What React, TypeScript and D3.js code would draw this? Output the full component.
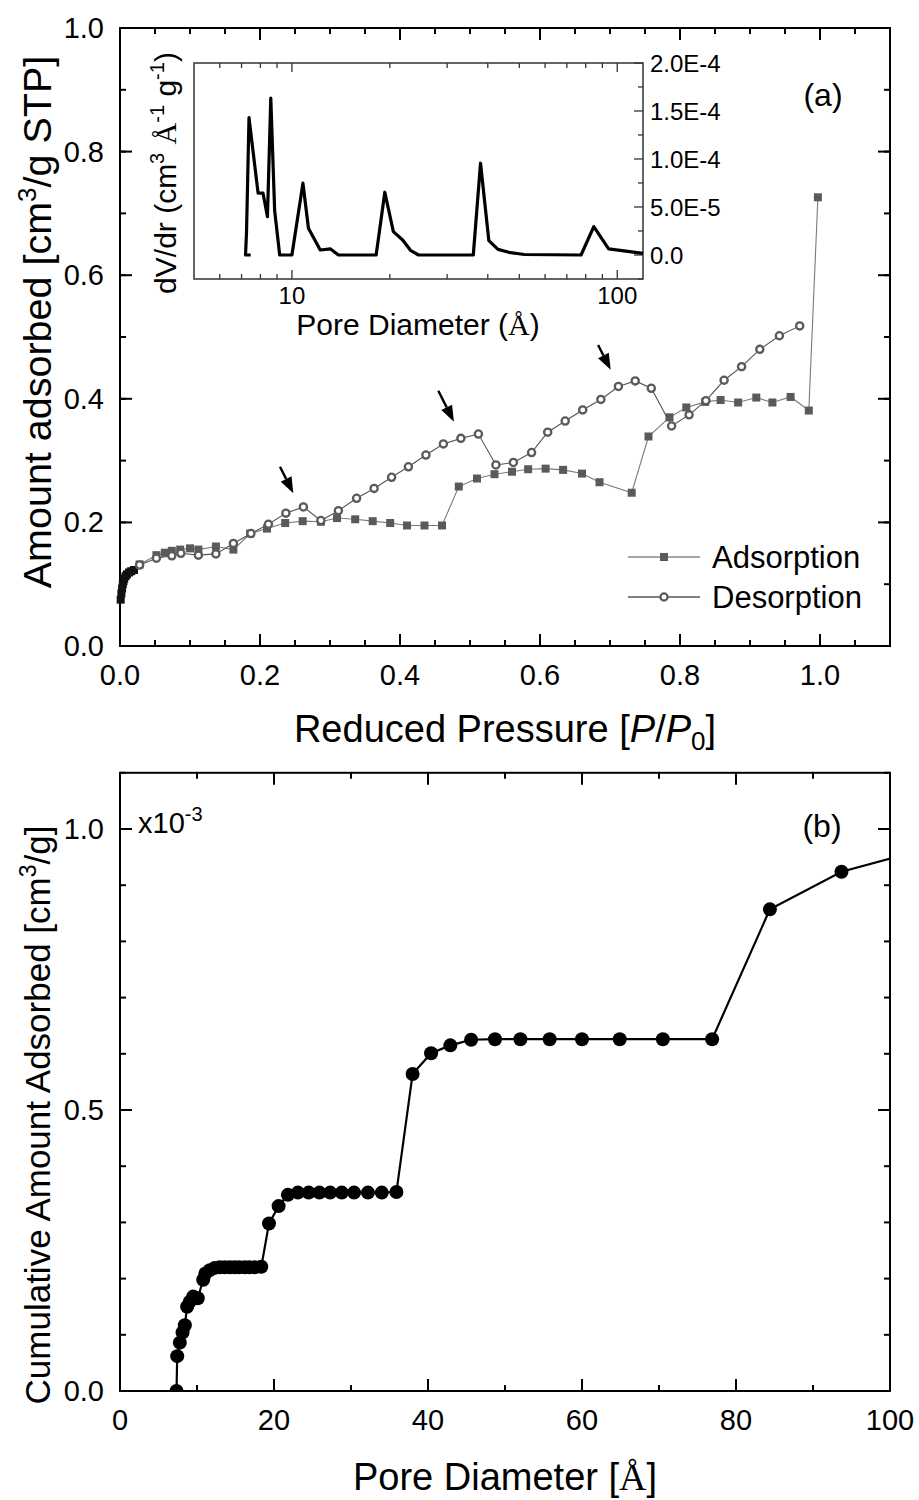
import React from "react";
import * as d3 from "d3";

// ---------- data: panel (a) isotherm ----------
const adsP = [0.001, 0.002, 0.003, 0.004, 0.005, 0.006, 0.008, 0.010, 0.013, 0.016, 0.020, 0.028, 0.052, 0.064, 0.074, 0.086, 0.100, 0.112, 0.137, 0.162, 0.186, 0.210, 0.236, 0.261, 0.287, 0.310, 0.336, 0.361, 0.386, 0.410, 0.435, 0.460, 0.484, 0.510, 0.535, 0.560, 0.583, 0.608, 0.633, 0.660, 0.685, 0.731, 0.755, 0.785, 0.809, 0.836, 0.858, 0.883, 0.909, 0.932, 0.958, 0.984, 0.997];
const adsV = [0.075, 0.085, 0.093, 0.100, 0.105, 0.109, 0.113, 0.116, 0.119, 0.121, 0.123, 0.132, 0.147, 0.151, 0.154, 0.156, 0.158, 0.156, 0.161, 0.156, 0.182, 0.190, 0.199, 0.202, 0.201, 0.207, 0.205, 0.202, 0.199, 0.195, 0.195, 0.195, 0.258, 0.271, 0.278, 0.282, 0.286, 0.287, 0.285, 0.279, 0.265, 0.248, 0.339, 0.370, 0.386, 0.395, 0.398, 0.394, 0.402, 0.394, 0.403, 0.381, 0.726];
const desP = [0.028, 0.052, 0.074, 0.087, 0.112, 0.137, 0.162, 0.187, 0.212, 0.237, 0.262, 0.287, 0.312, 0.338, 0.363, 0.388, 0.412, 0.437, 0.462, 0.487, 0.512, 0.537, 0.562, 0.588, 0.611, 0.636, 0.661, 0.687, 0.712, 0.736, 0.759, 0.788, 0.813, 0.837, 0.863, 0.888, 0.914, 0.942, 0.971];
const desV = [0.131, 0.142, 0.146, 0.150, 0.147, 0.149, 0.166, 0.182, 0.197, 0.215, 0.225, 0.203, 0.219, 0.239, 0.255, 0.273, 0.290, 0.309, 0.327, 0.336, 0.343, 0.293, 0.297, 0.313, 0.346, 0.364, 0.382, 0.399, 0.420, 0.429, 0.417, 0.356, 0.374, 0.397, 0.430, 0.452, 0.480, 0.502, 0.518];
// arrows (data coordinates): start and end
const arrowFromP = [0.2286, 0.4547, 0.683];
const arrowFromV = [0.290, 0.413, 0.487];
const arrowToP = [0.2476, 0.477, 0.701];
const arrowToV = [0.247, 0.363, 0.447];

// ---------- data: inset PSD (dV/dr, 1e-5 units) ----------
const psdD = [7.47, 7.2, 7.25, 7.38, 7.87, 8.15, 8.41, 8.61, 8.85, 9.17, 10.0, 10.81, 11.24, 12.22, 13.14, 13.9, 18.15, 19.3, 20.5, 21.9, 23.2, 24.5, 36.1, 38.0, 40.3, 43.0, 46.4, 51.8, 77.4, 84.7, 94.1, 120];
const psdV = [0, 0, 2.3, 14.3, 6.44, 6.44, 4.0, 16.35, 4.6, 0, 0, 7.48, 2.78, 0.52, 0.63, 0, 0, 6.54, 2.43, 1.56, 0.45, 0, 0, 9.56, 1.5, 0.59, 0.28, 0.05, 0, 2.96, 0.63, 0.17];

// ---------- data: panel (b) cumulative ----------
const poreD = [7.34, 7.43, 7.77, 8.12, 8.42, 8.72, 9.07, 9.5, 10.1, 10.8, 11.1, 11.66, 12.3, 12.95, 13.6, 14.25, 14.9, 15.5, 16.2, 16.8, 17.5, 18.35, 19.35, 20.6, 21.8, 23.1, 24.5, 25.9, 27.3, 28.8, 30.4, 32.2, 34.0, 35.9, 38.0, 40.4, 42.9, 45.6, 48.7, 52.0, 55.8, 60.0, 64.9, 70.5, 76.9, 84.4, 93.7, 104];
const cumV = [0, 0.062, 0.086, 0.104, 0.117, 0.150, 0.159, 0.168, 0.165, 0.198, 0.209, 0.215, 0.219, 0.220, 0.220, 0.220, 0.220, 0.220, 0.220, 0.220, 0.220, 0.221, 0.298, 0.329, 0.349, 0.353, 0.353, 0.353, 0.353, 0.353, 0.353, 0.353, 0.353, 0.354, 0.564, 0.601, 0.615, 0.625, 0.626, 0.626, 0.626, 0.626, 0.626, 0.626, 0.626, 0.857, 0.924, 0.962];

// ---------- ticks ----------
const aXMajor = [0, 0.2, 0.4, 0.6, 0.8, 1.0];
const aXLabels = ["0.0", "0.2", "0.4", "0.6", "0.8", "1.0"];
const aXMinor = d3.range(0, 1.1001, 0.05);
const aYMajor = [0, 0.2, 0.4, 0.6, 0.8, 1.0];
const aYLabels = ["0.0", "0.2", "0.4", "0.6", "0.8", "1.0"];
const aYMinor = d3.range(0, 1.0001, 0.1);
const iXMajor = [10, 100];
const iXLabels = ["10", "100"];
const iXMinor = [6, 7, 8, 9, 20, 30, 40, 50, 60, 70, 80, 90];
const iYMajor = [0, 5e-5, 1e-4, 1.5e-4, 2e-4];
const iYLabels = ["0.0", "5.0E-5", "1.0E-4", "1.5E-4", "2.0E-4"];
const iYMinor = [-2.5e-5, 2.5e-5, 7.5e-5, 1.25e-4, 1.75e-4];
const bXMajor = [0, 20, 40, 60, 80, 100];
const bXLabels = ["0", "20", "40", "60", "80", "100"];
const bXMinor = d3.range(0, 100.001, 10);
const bYMajor = [0, 0.5, 1.0];
const bYLabels = ["0.0", "0.5", "1.0"];
const bYMinor = d3.range(0, 1.1001, 0.1);

const FONT = "Arial, 'Liberation Sans', Helvetica, sans-serif";
const SERIF = "'Times New Roman', 'Liberation Serif', 'DejaVu Serif', serif";

function Ticks({ xs, ys, x0, x1, y0, y1, xMaj, xMin, yMaj, yMin, sides, lenMaj, lenMin, sw, color }: any) {
  const out: any[] = [];
  let k = 0;
  const addX = (v: number, len: number) => {
    const x = xs(v);
    if (sides.includes("b")) out.push(<line key={k++} x1={x} x2={x} y1={y1} y2={y1 - len} stroke={color} strokeWidth={sw} />);
    if (sides.includes("t")) out.push(<line key={k++} x1={x} x2={x} y1={y0} y2={y0 + len} stroke={color} strokeWidth={sw} />);
  };
  const addY = (v: number, len: number) => {
    const y = ys(v);
    if (sides.includes("l")) out.push(<line key={k++} x1={x0} x2={x0 + len} y1={y} y2={y} stroke={color} strokeWidth={sw} />);
    if (sides.includes("r")) out.push(<line key={k++} x1={x1} x2={x1 - len} y1={y} y2={y} stroke={color} strokeWidth={sw} />);
  };
  xMin.forEach((v: number) => addX(v, lenMin));
  xMaj.forEach((v: number) => addX(v, lenMaj));
  yMin.forEach((v: number) => addY(v, lenMin));
  yMaj.forEach((v: number) => addY(v, lenMaj));
  return <g>{out}</g>;
}

export default function App() {
  // panel (a)
  const aL = 120, aR = 890, aT = 28, aB = 646;
  const xA = d3.scaleLinear().domain([0, 1.1]).range([aL, aR]);
  const yA = d3.scaleLinear().domain([0, 1.0]).range([aB, aT]);
  // inset
  const iL = 194, iR = 643, iT = 63, iB = 279;
  const xI = d3.scaleLog().domain([5, 120]).range([iL, iR]);
  const yI = d3.scaleLinear().domain([-2.5e-5, 2.0e-4]).range([iB, iT]);
  // panel (b)
  const bL = 120, bR = 890, bB = 1391;
  const xB = d3.scaleLinear().domain([0, 100]).range([bL, bR]);
  const yB = d3.scaleLinear().domain([0, 1.1]).range([bB, bB - 1.1 * 562]);
  const bT = yB(1.1);

  const ads = adsP.map((p, i) => [p, adsV[i]] as [number, number]);
  const des = desP.map((p, i) => [p, desV[i]] as [number, number]);
  const lineA = d3.line<[number, number]>().x((d) => xA(d[0])).y((d) => yA(d[1]));
  const psd = psdD.map((d, i) => [d, psdV[i] * 1e-5] as [number, number]);
  const lineI = d3.line<[number, number]>().x((d) => xI(d[0])).y((d) => yI(d[1]));
  const cum = poreD.map((d, i) => [d, cumV[i]] as [number, number]);
  const lineB = d3.line<[number, number]>().x((d) => xB(d[0])).y((d) => yB(d[1]));

  const markGray = "#5a5a5a";
  const tickFs = 29;

  const arrows = arrowFromP.map((p, i) => {
    const x1 = xA(p), y1 = yA(arrowFromV[i]);
    const x2 = xA(arrowToP[i]), y2 = yA(arrowToV[i]);
    const ang = Math.atan2(y2 - y1, x2 - x1);
    const hl = 16, hw = 6;
    const bx = x2 - hl * Math.cos(ang), by = y2 - hl * Math.sin(ang);
    const px = -Math.sin(ang) * hw, py = Math.cos(ang) * hw;
    return (
      <g key={"ar" + i}>
        <line x1={x1} y1={y1} x2={bx} y2={by} stroke="#000" strokeWidth={2.4} />
        <polygon points={`${x2},${y2} ${bx + px},${by + py} ${bx - px},${by - py}`} fill="#000" />
      </g>
    );
  });

  return (
    <svg width={919} height={1500} style={{ position: "absolute", left: 0, top: 0, background: "#fff" }} fontFamily={FONT}>
      <rect x={0} y={0} width={919} height={1500} fill="#fff" />
      <defs>
        <clipPath id="clipB">
          <rect x={bL} y={bT} width={bR - bL} height={bB - bT} />
        </clipPath>
      </defs>

      {/* ================= panel (a) ================= */}
      <rect x={aL} y={aT} width={aR - aL} height={aB - aT} fill="none" stroke="#000" strokeWidth={2} />
      <Ticks xs={xA} ys={yA} x0={aL} x1={aR} y0={aT} y1={aB} xMaj={aXMajor} xMin={aXMinor} yMaj={aYMajor} yMin={aYMinor} sides="btlr" lenMaj={12} lenMin={6} sw={2} color="#000" />
      {aXMajor.map((v, i) => (
        <text key={"axl" + i} x={xA(v)} y={685} fontSize={tickFs} textAnchor="middle" fill="#000">{aXLabels[i]}</text>
      ))}
      {aYMajor.map((v, i) => (
        <text key={"ayl" + i} x={104} y={yA(v) + 10} fontSize={tickFs} textAnchor="end" fill="#000">{aYLabels[i]}</text>
      ))}
      <text x={505} y={742} fontSize={38} textAnchor="middle" fill="#000">
        Reduced Pressure [<tspan fontStyle="italic">P</tspan>/<tspan fontStyle="italic">P</tspan>
        <tspan fontSize={26} dy={8}>0</tspan>
        <tspan dy={-8}>]</tspan>
      </text>
      <text transform="translate(51,322) rotate(-90)" fontSize={39.5} textAnchor="middle" fill="#000">
        Amount adsorbed [cm<tspan fontSize={26} dy={-15}>3</tspan>
        <tspan dy={15}>/g STP]</tspan>
      </text>
      <text x={823} y={106} fontSize={32} textAnchor="middle" fill="#000">(a)</text>

      {/* data lines */}
      <path d={lineA(ads) || ""} fill="none" stroke="#7a7a7a" strokeWidth={1.1} />
      <path d={lineA(des) || ""} fill="none" stroke="#555" strokeWidth={1.1} />
      {ads.map((d, i) => (
        <rect key={"sq" + i} x={xA(d[0]) - 4} y={yA(d[1]) - 4} width={8} height={8} fill={d[0] < 0.025 ? "#111" : markGray} />
      ))}
      {des.map((d, i) => (
        <circle key={"ci" + i} cx={xA(d[0])} cy={yA(d[1])} r={3.6} fill="#fff" stroke={markGray} strokeWidth={2.3} />
      ))}
      {arrows}

      {/* legend */}
      <line x1={628} x2={700} y1={557} y2={557} stroke="#888" strokeWidth={1.3} />
      <rect x={660} y={553} width={8} height={8} fill={markGray} />
      <text x={712} y={557} fontSize={31} dominantBaseline="central" fill="#000">Adsorption</text>
      <line x1={628} x2={700} y1={597} y2={597} stroke="#555" strokeWidth={1.3} />
      <circle cx={664} cy={597} r={3.6} fill="#fff" stroke={markGray} strokeWidth={2.3} />
      <text x={712} y={597} fontSize={31} dominantBaseline="central" fill="#000">Desorption</text>

      {/* ================= inset ================= */}
      <rect x={iL} y={iT} width={iR - iL} height={iB - iT} fill="#fff" stroke="#333" strokeWidth={1.5} />
      <Ticks xs={xI} ys={yI} x0={iL} x1={iR} y0={iT} y1={iB} xMaj={iXMajor} xMin={iXMinor} yMaj={iYMajor} yMin={iYMinor} sides="btr" lenMaj={9} lenMin={5} sw={1.3} color="#333" />
      <path d={lineI(psd) || ""} fill="none" stroke="#000" strokeWidth={3.2} strokeLinejoin="round" />
      {iXMajor.map((v, i) => (
        <text key={"ixl" + i} x={xI(v)} y={304} fontSize={24} textAnchor="middle" fill="#000">{iXLabels[i]}</text>
      ))}
      {iYMajor.map((v, i) => (
        <text key={"iyl" + i} x={650} y={yI(v) + 8.5} fontSize={24} textAnchor="start" fill="#000">{iYLabels[i]}</text>
      ))}
      <text x={418} y={335} fontSize={30} textAnchor="middle" fill="#000">
        Pore Diameter (<tspan fontFamily={SERIF}>Å</tspan>)
      </text>
      <text transform="translate(176,173) rotate(-90)" fontSize={30} textAnchor="middle" fill="#000">
        dV/dr (cm<tspan fontSize={20} dy={-12}>3</tspan>
        <tspan dy={12}> </tspan>
        <tspan fontFamily={SERIF}>Å</tspan>
        <tspan fontSize={20} dy={-12}>-1</tspan>
        <tspan dy={12}> g</tspan>
        <tspan fontSize={20} dy={-12}>-1</tspan>
        <tspan dy={12}>)</tspan>
      </text>

      {/* ================= panel (b) ================= */}
      <rect x={bL} y={bT} width={bR - bL} height={bB - bT} fill="none" stroke="#000" strokeWidth={2} />
      <Ticks xs={xB} ys={yB} x0={bL} x1={bR} y0={bT} y1={bB} xMaj={bXMajor} xMin={bXMinor} yMaj={bYMajor} yMin={bYMinor} sides="btlr" lenMaj={12} lenMin={6} sw={2} color="#000" />
      {bXMajor.map((v, i) => (
        <text key={"bxl" + i} x={xB(v)} y={1430} fontSize={tickFs} textAnchor="middle" fill="#000">{bXLabels[i]}</text>
      ))}
      {bYMajor.map((v, i) => (
        <text key={"byl" + i} x={104} y={yB(v) + 10} fontSize={tickFs} textAnchor="end" fill="#000">{bYLabels[i]}</text>
      ))}
      <text x={138} y={833} fontSize={29} fill="#000">
        x10<tspan fontSize={20} dy={-12}>-3</tspan>
      </text>
      <text x={822} y={837} fontSize={32} textAnchor="middle" fill="#000">(b)</text>
      <text x={505} y={1490} fontSize={38} textAnchor="middle" fill="#000">
        Pore Diameter [<tspan fontFamily={SERIF}>Å</tspan>]
      </text>
      <text transform="translate(50,1115) rotate(-90)" fontSize={35} textAnchor="middle" fill="#000">
        Cumulative Amount Adsorbed [cm<tspan fontSize={23} dy={-14}>3</tspan>
        <tspan dy={14}>/g]</tspan>
      </text>
      <g clipPath="url(#clipB)">
        <path d={lineB(cum) || ""} fill="none" stroke="#000" strokeWidth={2.2} />
        {cum.map((d, i) => (
          <circle key={"cb" + i} cx={xB(d[0])} cy={yB(d[1])} r={7} fill="#000" />
        ))}
      </g>
    </svg>
  );
}
